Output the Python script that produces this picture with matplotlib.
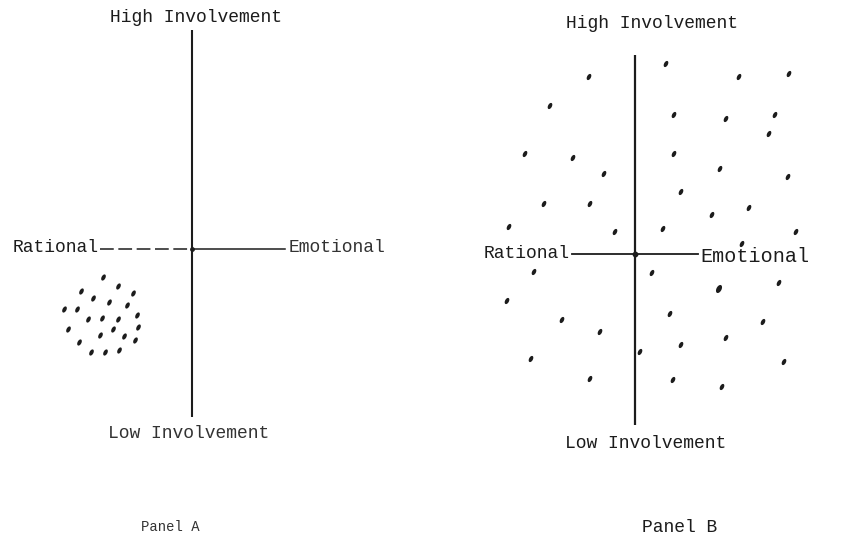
import numpy as np
import matplotlib
matplotlib.use("Agg")
import matplotlib.pyplot as plt
from matplotlib.path import Path
from matplotlib.transforms import Affine2D

# ---- data: positions on (Rational<->Emotional, Low<->High involvement) axes ----
panel_a_x = [-89, -74, -111, -59, -99, -83, -65, -128, -115, -55, -104, -90, -74,
             -124, -54, -79, -92, -68, -113, -57, -101, -87, -73]
panel_a_y = [-28, -37, -42, -44, -49, -53, -56, -60, -60, -66, -70, -69, -70,
             -80, -78, -80, -86, -87, -93, -91, -103, -103, -101]

panel_b_x = [31, -46, 104, 154, -85, 39, 91, 140, 134, -110, -62, 39, -31, 85, 153,
             46, -91, -45, 114, 77, -126, -20, 28, 161, 107, -101, 17, 144, 84,
             -128, -73, 35, 128, -35, 91, 46, 5, -104, 149, -45, 38, 87]
panel_b_y = [190, 177, 177, 180, 148, 139, 135, 139, 120, 100, 96, 100, 80, 85, 77,
             62, 50, 50, 46, 39, 27, 22, 25, 22, 10, -18, -19, -29, -35,
             -47, -66, -60, -68, -78, -84, -91, -98, -105, -108, -125, -126, -133]

axis_top = "High Involvement"
axis_bottom = "Low Involvement"
axis_left = "Rational"
axis_right = "Emotional"
panel_titles = ["Panel A", "Panel B"]

INK = "#1c1c1c"
FONT = "Liberation Mono"

# slanted short-dash marker like the typed dots
t = np.linspace(0, 2 * np.pi, 24)
ell = np.column_stack([np.cos(t), 0.58 * np.sin(t)])
ell = Affine2D().rotate_deg(62).transform(ell)
dash_marker = Path(ell, closed=True)

fig = plt.figure(figsize=(8.42, 5.44), dpi=100)
fig.patch.set_facecolor("white")

axA = fig.add_axes([0, 0, 0.5, 1])
axB = fig.add_axes([0.5, 0, 0.5, 1])
axA.set_xlim(-192, 229)
axA.set_ylim(-295, 249)
axB.set_xlim(-214, 207)
axB.set_ylim(-290, 254)
for ax in (axA, axB):
    ax.axis("off")

# ---- Panel A ----
axA.plot([0, 0], [-168, 219], color=INK, lw=1.5, solid_capstyle="butt")
axA.plot([-92, 0], [0, 0], color=INK, lw=1.1, dashes=(9, 3))
axA.plot([0, 93], [0, 0], color=INK, lw=1.1)
axA.scatter([0], [0], s=6, color=INK, marker="o")
axA.scatter(panel_a_x, panel_a_y, s=20, marker=dash_marker, color=INK, linewidths=0)
axA.text(4, 232, axis_top, ha="center", va="center", fontsize=13, family=FONT, color=INK)
axA.text(-3, -184, axis_bottom, ha="center", va="center", fontsize=13, family=FONT,
         color="#333333")
axA.text(-93, 1, axis_left, ha="right", va="center", fontsize=13, family=FONT, color=INK)
axA.text(97, 1, axis_right, ha="left", va="center", fontsize=13, family=FONT, color="#333333")
axA.text(-22, -278, panel_titles[0], ha="center", va="center", fontsize=10, family=FONT,
         color="#333333")

# ---- Panel B ----
axB.plot([0, 0], [-171, 199], color=INK, lw=1.6, solid_capstyle="butt")
axB.plot([-63, 63], [0, 0], color=INK, lw=1.3)
axB.scatter([0], [0], s=10, color=INK, marker="o")
sizes = [20] * len(panel_b_x)
sizes[28] = 34
axB.scatter(panel_b_x, panel_b_y, s=sizes, marker=dash_marker, color=INK, linewidths=0)
axB.text(17, 231, axis_top, ha="center", va="center", fontsize=13, family=FONT, color=INK)
axB.text(11, -189, axis_bottom, ha="center", va="center", fontsize=13, family=FONT, color=INK)
axB.text(-65, 1, axis_left, ha="right", va="center", fontsize=13, family=FONT, color=INK)
axB.text(65, -3, axis_right, ha="left", va="center", fontsize=14.5, family=FONT, color=INK)
axB.text(7, -274, panel_titles[1], ha="left", va="center", fontsize=13, family=FONT, color=INK)

fig.savefig("out.png", dpi=100, facecolor="white")
